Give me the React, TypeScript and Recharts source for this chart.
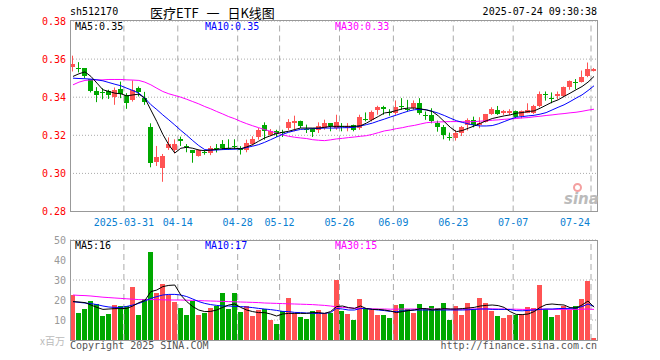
import React from 'react'
import { ComposedChart, Bar, Line, XAxis, YAxis, CartesianGrid, ReferenceLine } from 'recharts'

const dates = [
  '2025-03-18', '2025-03-19', '2025-03-20', '2025-03-21', '2025-03-24', '2025-03-25', '2025-03-26', '2025-03-27', '2025-03-28', '2025-03-31',
  '2025-04-01', '2025-04-02', '2025-04-03', '2025-04-07', '2025-04-08', '2025-04-09', '2025-04-10', '2025-04-11', '2025-04-14', '2025-04-15',
  '2025-04-16', '2025-04-17', '2025-04-18', '2025-04-21', '2025-04-22', '2025-04-23', '2025-04-24', '2025-04-25', '2025-04-28', '2025-04-29',
  '2025-04-30', '2025-05-06', '2025-05-07', '2025-05-08', '2025-05-09', '2025-05-12', '2025-05-13', '2025-05-14', '2025-05-15', '2025-05-16',
  '2025-05-19', '2025-05-20', '2025-05-21', '2025-05-22', '2025-05-23', '2025-05-26', '2025-05-27', '2025-05-28', '2025-05-29', '2025-05-30',
  '2025-06-03', '2025-06-04', '2025-06-05', '2025-06-06', '2025-06-09', '2025-06-10', '2025-06-11', '2025-06-12', '2025-06-13', '2025-06-16',
  '2025-06-17', '2025-06-18', '2025-06-19', '2025-06-20', '2025-06-23', '2025-06-24', '2025-06-25', '2025-06-26', '2025-06-27', '2025-06-30',
  '2025-07-01', '2025-07-02', '2025-07-03', '2025-07-04', '2025-07-07', '2025-07-08', '2025-07-09', '2025-07-10', '2025-07-11', '2025-07-14',
  '2025-07-15', '2025-07-16', '2025-07-17', '2025-07-18', '2025-07-21', '2025-07-22', '2025-07-23', '2025-07-24',
]

const open = [
  0.3558, 0.3554, 0.3553, 0.3495, 0.3435, 0.3426, 0.343, 0.34, 0.3444, 0.3412,
  0.3386, 0.3447, 0.3398, 0.3242, 0.3061, 0.3026, 0.3135, 0.3123, 0.3181, 0.3142,
  0.3123, 0.3091, 0.3112, 0.3105, 0.3133, 0.3153, 0.3133, 0.3142, 0.3134, 0.3125,
  0.3155, 0.3191, 0.3256, 0.3203, 0.3224, 0.3219, 0.3238, 0.3264, 0.3277, 0.3235,
  0.3233, 0.3226, 0.3238, 0.3264, 0.3238, 0.3247, 0.3238, 0.3252, 0.3238, 0.3287,
  0.3282, 0.3334, 0.3346, 0.3321, 0.3317, 0.3352, 0.3338, 0.3343, 0.3369, 0.3304,
  0.3307, 0.3267, 0.3242, 0.319, 0.3184, 0.3214, 0.3254, 0.3281, 0.3254, 0.3272,
  0.3312, 0.3333, 0.3316, 0.3316, 0.3325, 0.3302, 0.3319, 0.3319, 0.3354, 0.3419,
  0.3396, 0.3407, 0.3407, 0.3453, 0.3478, 0.3482, 0.3509, 0.354,
]
const close = [
  0.3575, 0.3547, 0.3509, 0.3435, 0.3409, 0.3422, 0.3409, 0.3439, 0.3418, 0.3368,
  0.3439, 0.3426, 0.3377, 0.3056, 0.3084, 0.3093, 0.3154, 0.3154, 0.317, 0.3138,
  0.3105, 0.3121, 0.3109, 0.3132, 0.313, 0.3132, 0.313, 0.314, 0.3122, 0.3157,
  0.3181, 0.3226, 0.3221, 0.3224, 0.3209, 0.3216, 0.3268, 0.3277, 0.3247, 0.3233,
  0.3216, 0.325, 0.3264, 0.3247, 0.3268, 0.3242, 0.325, 0.3226, 0.3296, 0.3285,
  0.3322, 0.3346, 0.3337, 0.3318, 0.3351, 0.335, 0.3336, 0.3369, 0.3317, 0.3302,
  0.3277, 0.3242, 0.3202, 0.3188, 0.3214, 0.3242, 0.3281, 0.3254, 0.3267, 0.3312,
  0.3337, 0.3312, 0.3325, 0.3325, 0.3298, 0.3325, 0.3333, 0.3354, 0.3418, 0.3417,
  0.3394, 0.3418, 0.3453, 0.3486, 0.3476, 0.3505, 0.3547, 0.3547,
]
const high = [
  0.3618, 0.3584, 0.3553, 0.3495, 0.3453, 0.3447, 0.3439, 0.3451, 0.3482, 0.3421,
  0.3488, 0.3456, 0.3428, 0.3263, 0.3144, 0.3102, 0.3189, 0.3179, 0.3193, 0.3154,
  0.3123, 0.3126, 0.3123, 0.3144, 0.3154, 0.3175, 0.3179, 0.3179, 0.3143, 0.3177,
  0.3195, 0.3238, 0.3268, 0.3233, 0.3229, 0.3229, 0.3285, 0.3303, 0.3277, 0.3256,
  0.3238, 0.3268, 0.3282, 0.3264, 0.3308, 0.3264, 0.3264, 0.3256, 0.3308, 0.332,
  0.333, 0.3355, 0.3355, 0.3337, 0.3383, 0.3395, 0.3386, 0.3383, 0.3395, 0.3325,
  0.3342, 0.3277, 0.3254, 0.3214, 0.3228, 0.3249, 0.3289, 0.3298, 0.3295, 0.3312,
  0.3347, 0.3354, 0.3333, 0.3337, 0.333, 0.333, 0.3368, 0.336, 0.343, 0.343,
  0.3425, 0.343, 0.3456, 0.3488, 0.3495, 0.354, 0.3582, 0.3553,
]
const low = [
  0.3535, 0.353, 0.35, 0.3425, 0.3374, 0.3389, 0.3391, 0.336, 0.3395, 0.3339,
  0.3377, 0.3404, 0.336, 0.3032, 0.3039, 0.2956, 0.3123, 0.3105, 0.3144, 0.3111,
  0.3056, 0.3088, 0.3098, 0.3096, 0.311, 0.3123, 0.3123, 0.3126, 0.3099, 0.3111,
  0.3146, 0.3177, 0.3177, 0.3195, 0.3191, 0.3191, 0.3226, 0.3221, 0.3238, 0.3212,
  0.3191, 0.3212, 0.3229, 0.3221, 0.3229, 0.3221, 0.3221, 0.3221, 0.3229, 0.3273,
  0.3273, 0.3308, 0.3308, 0.3303, 0.3308, 0.3334, 0.3325, 0.3334, 0.3308, 0.3281,
  0.3263, 0.3219, 0.3179, 0.3172, 0.3172, 0.3196, 0.3225, 0.3242, 0.3237, 0.3267,
  0.3307, 0.3307, 0.3307, 0.3307, 0.3289, 0.3289, 0.3316, 0.3312, 0.3347, 0.3382,
  0.3368, 0.3389, 0.34, 0.3439, 0.3442, 0.3477, 0.3505, 0.3535,
]

// moving averages as drawn on the chart
const ma5 = [
  0.3509, 0.3523, 0.3533, 0.3509, 0.3474, 0.3439, 0.343, 0.3421, 0.3418, 0.3407,
  0.3412, 0.3416, 0.3395, 0.3333, 0.3272, 0.3205, 0.315, 0.3107, 0.3132, 0.3137,
  0.3132, 0.3123, 0.3119, 0.3123, 0.3126, 0.313, 0.3132, 0.3132, 0.3129, 0.3139,
  0.3151, 0.3169, 0.3186, 0.3198, 0.3209, 0.3216, 0.3221, 0.323, 0.3238, 0.3238,
  0.3238, 0.3238, 0.3242, 0.3247, 0.3247, 0.3247, 0.3247, 0.3247, 0.325, 0.3264,
  0.3282, 0.3299, 0.3317, 0.3322, 0.333, 0.3339, 0.3343, 0.3343, 0.3339, 0.3333,
  0.3325, 0.3302, 0.3272, 0.3242, 0.3219, 0.3225, 0.3237, 0.3249, 0.3263, 0.3276,
  0.3288, 0.3295, 0.3302, 0.3307, 0.3316, 0.3319, 0.3325, 0.3328, 0.3342, 0.3358,
  0.3374, 0.3386, 0.3404, 0.3421, 0.3439, 0.3456, 0.3479, 0.3509,
]
const ma10 = [
  0.35, 0.3498, 0.3497, 0.3495, 0.3491, 0.3486, 0.3477, 0.3468, 0.346, 0.3447,
  0.3435, 0.3421, 0.3395, 0.3361, 0.3335, 0.3307, 0.3281, 0.3254, 0.3226, 0.32,
  0.3172, 0.3146, 0.3125, 0.3122, 0.3123, 0.3125, 0.3126, 0.3127, 0.3129, 0.3136,
  0.3143, 0.3151, 0.3163, 0.3177, 0.3191, 0.3205, 0.3216, 0.3224, 0.3231, 0.3233,
  0.3235, 0.3236, 0.3238, 0.3238, 0.3238, 0.324, 0.324, 0.3242, 0.3249, 0.3256,
  0.3264, 0.3275, 0.3285, 0.3296, 0.3306, 0.3317, 0.3327, 0.3334, 0.3336, 0.3334,
  0.3326, 0.3316, 0.3304, 0.329, 0.3277, 0.3268, 0.326, 0.3253, 0.3249, 0.3249,
  0.3251, 0.326, 0.3272, 0.3284, 0.3295, 0.3298, 0.3302, 0.3305, 0.3311, 0.3319,
  0.3333, 0.3347, 0.336, 0.3377, 0.3395, 0.3412, 0.3435, 0.346,
]
const ma30 = [
  0.3465, 0.3479, 0.3488, 0.3491, 0.3491, 0.3491, 0.3493, 0.3493, 0.3493, 0.3491,
  0.349, 0.3488, 0.3479, 0.3465, 0.3447, 0.343, 0.3418, 0.3409, 0.34, 0.3389,
  0.3377, 0.3365, 0.3351, 0.3339, 0.3325, 0.3312, 0.3298, 0.3287, 0.3273, 0.3261,
  0.325, 0.324, 0.323, 0.3221, 0.3212, 0.3202, 0.3195, 0.319, 0.3186, 0.3183,
  0.3177, 0.3174, 0.3172, 0.3176, 0.3181, 0.3184, 0.3188, 0.3191, 0.3195, 0.3198,
  0.3205, 0.3214, 0.3223, 0.3228, 0.3235, 0.324, 0.3247, 0.3252, 0.3259, 0.3266,
  0.3269, 0.327, 0.3271, 0.3272, 0.3272, 0.3271, 0.3271, 0.3272, 0.3274, 0.3276,
  0.3279, 0.3281, 0.3284, 0.3286, 0.3288, 0.3291, 0.3293, 0.3297, 0.33, 0.3304,
  0.3307, 0.3311, 0.3314, 0.3318, 0.3321, 0.3326, 0.3332, 0.3337,
]

// volume, millions of shares
const vol = [
  22.5, 13.7, 15.5, 19.7, 18, 12, 13, 17.5, 17, 17,
  26.7, 12.5, 20.5, 44.2, 23.3, 28, 22.5, 19.2, 15.8, 12.5,
  19.7, 12.5, 13.7, 15.8, 17, 23.7, 15.5, 23.7, 14.2, 17.2,
  12, 15, 15.3, 10, 8, 14.5, 21.2, 13.7, 11.7, 10.5,
  14.5, 15, 13.7, 13.3, 30, 14.7, 13, 10, 20.5, 15.5,
  15, 12.5, 12.5, 11.2, 17.5, 18, 15.5, 13.7, 18, 15.5,
  17, 15.8, 18.5, 10, 17, 12.5, 18.5, 15.5, 21, 18.5,
  14.5, 12, 11, 12.5, 12.5, 12.5, 16.5, 16, 27.5, 15.5,
  11.3, 12.5, 17, 15, 17, 20.5, 29.5, 1.2,
]
const vma5 = [
  19.2, 19, 18.7, 17.5, 16.3, 15.3, 15.5, 15.7, 15.7, 15.8,
  17, 18.7, 19.7, 24.2, 25, 26.7, 27.3, 27.5, 22.5, 19.2,
  16.7, 15, 14.2, 14.3, 15, 16.3, 17.5, 18, 16.3, 15,
  14.2, 13.7, 13.7, 13, 12, 13, 13.3, 13.3, 13.3, 13.3,
  13.7, 13.7, 13.3, 14.2, 16.7, 17, 16.2, 15.8, 17, 15.7,
  15.3, 15.3, 15, 14.5, 13.7, 14.2, 14.7, 15, 15.7, 15.7,
  15, 15.3, 15.7, 15.5, 15.5, 15.7, 16, 16.3, 17, 17.3,
  17.5, 17.2, 16.3, 14.2, 12.8, 12.7, 13, 14.2, 16.3, 17.7,
  18, 17.7, 17.5, 16.2, 16, 17.5, 19.5, 16.4,
]
const vma10 = [
  19.2, 18.8, 18.5, 18.2, 17.7, 17, 16.5, 16.3, 16.3, 16.8,
  17.5, 18.3, 19.5, 20.8, 21.7, 22.5, 22.8, 22.8, 22.5, 21.7,
  20.5, 19.2, 18.3, 17.7, 17.3, 17, 17, 16.8, 16.7, 16.5,
  16.2, 15.8, 15.5, 15.2, 14.8, 14.3, 14.2, 13.8, 13.7, 13.5,
  13.3, 13.3, 13.3, 13.7, 15.8, 15.5, 15, 15, 15.7, 15.7,
  15.3, 15, 14.7, 14.3, 14.2, 14.5, 14.8, 15, 15, 15,
  15, 15, 15, 15, 15, 15, 15.1, 15.3, 15.5, 15.5,
  15.3, 15.3, 15.3, 15.2, 14.7, 14.6, 14.8, 15, 15.3, 15.5,
  15.5, 15.7, 15.8, 15.8, 16, 16.7, 18, 16.8,
]
const vma30 = [
  22.5, 22.3, 22.2, 22, 21.7, 21.4, 21.2, 21, 20.8, 20.6,
  20.4, 20.2, 20.1, 20.2, 20.2, 20.1, 20, 20, 20, 19.9,
  19.8, 19.7, 19.6, 19.5, 19.4, 19.3, 19.2, 19.1, 19, 18.9,
  18.8, 18.7, 18.5, 18.4, 18.3, 18.2, 18.1, 18, 17.9, 17.8,
  17.7, 17.5, 17.3, 17, 16.6, 16.3, 16.1, 15.9, 15.8, 15.7,
  15.6, 15.5, 15.5, 15.4, 15.4, 15.5, 15.5, 15.5, 15.6, 15.6,
  15.5, 15.5, 15.5, 15.4, 15.4, 15.4, 15.5, 15.5, 15.5, 15.6,
  15.6, 15.5, 15.5, 15.4, 15.4, 15.3, 15.3, 15.3, 15.4, 15.4,
  15.3, 15.3, 15.3, 15.3, 15.3, 15.4, 15.5, 15.3,
]

const markDates = ['2025-03-31', '2025-04-14', '2025-04-28', '2025-05-12', '2025-05-26', '2025-06-09', '2025-06-23', '2025-07-07', '2025-07-24']
const priceTicks = [0.28, 0.3, 0.32, 0.34, 0.36, 0.38]
const volTicks = [10, 20, 30, 40, 50]

const UP = '#ff5353'
const DOWN = '#00a800'
const GRID = '#aaa'
const MONO = '"DejaVu Sans Mono", "Liberation Mono", monospace'

const rows = dates.map((date, i) => ({
  date,
  open: open[i],
  close: close[i],
  high: high[i],
  low: low[i],
  ma5: ma5[i],
  ma10: ma10[i],
  ma30: ma30[i],
  vol: vol[i],
  vma5: vma5[i],
  vma10: vma10[i],
  vma30: vma30[i],
}))

const last = rows.length - 1

function Candle(props: any) {
  const { x, y, height, payload } = props
  const color = payload.close >= payload.open ? UP : DOWN
  const top = Math.min(y, y + height)
  const h = Math.abs(height)
  const k = h / (payload.high - payload.low)
  const yO = top + (payload.high - payload.open) * k
  const yC = top + (payload.high - payload.close) * k
  const left = Math.round(x)
  return (
    <g>
      <line x1={left + 2.5} x2={left + 2.5} y1={top} y2={top + h} stroke={color} strokeWidth={1} />
      <rect
        x={left}
        y={Math.min(yO, yC)}
        width={5}
        height={Math.max(Math.abs(yO - yC), 1)}
        fill={color}
        shapeRendering="crispEdges"
      />
    </g>
  )
}

function VolBar(props: any) {
  const { x, y, height, payload } = props
  const color = payload.close >= payload.open ? UP : DOWN
  return <rect x={Math.round(x)} y={y} width={5} height={Math.max(height, 0)} fill={color} shapeRendering="crispEdges" />
}

function DateTick(props: any) {
  const { x, y, payload } = props
  const v: string = payload.value
  const isLast = v === markDates[markDates.length - 1]
  const label = v === markDates[0] ? v : v.slice(5)
  return (
    <text
      x={isLast ? x - 4 : x - 3}
      y={y}
      dy="0.71em"
      textAnchor={isLast ? 'end' : 'middle'}
      fill="#0a80d2"
      fontSize={10}
      fontFamily={MONO}
    >
      {label}
    </text>
  )
}

function Txt({ left, right, cy, size = 10, color = '#000', font = MONO, style, children }: any) {
  return (
    <div
      style={{
        position: 'absolute',
        left,
        right,
        top: cy - size / 2,
        fontSize: size,
        lineHeight: `${size}px`,
        color,
        fontFamily: font,
        whiteSpace: 'pre',
        ...style,
      }}
    >
      {children}
    </div>
  )
}

const frame = (top: number, height: number): React.CSSProperties => ({
  position: 'absolute',
  left: 70,
  top,
  width: 528,
  height,
  border: '1px solid #999',
  boxSizing: 'border-box',
  pointerEvents: 'none',
})

export default function App() {
  return (
    <div style={{ position: 'absolute', left: 0, top: 0, width: 660, height: 360, background: '#fff', overflow: 'hidden' }}>
      <div style={{ position: 'absolute', left: 0, top: 0 }}>
        <ComposedChart width={660} height={232} data={rows} margin={{ top: 21, right: 63, bottom: 0, left: 0 }} barCategoryGap={0}>
          <CartesianGrid vertical={false} stroke={GRID} strokeDasharray="1 2" />
          <XAxis
            dataKey="date"
            ticks={markDates}
            interval={0}
            tick={<DateTick />}
            tickLine={false}
            axisLine={false}
            tickSize={4}
            tickMargin={3}
            height={20.5}
          />
          <YAxis
            domain={[0.28, 0.38]}
            ticks={priceTicks}
            allowDataOverflow
            width={70}
            tickLine={false}
            axisLine={false}
            tickSize={2}
            tickMargin={2}
            tickFormatter={(v: number) => v.toFixed(2)}
            tick={{ fill: '#f00', fontSize: 10, fontFamily: MONO }}
          />
          {markDates.map((d) => (
            <ReferenceLine key={d} x={d} position="start" stroke={GRID} strokeDasharray="6 4" />
          ))}
          <Bar dataKey={(d: any) => [d.low, d.high]} shape={<Candle />} isAnimationActive={false} />
          <Line dataKey="ma30" stroke="#f0f" strokeWidth={1} dot={false} isAnimationActive={false} />
          <Line dataKey="ma10" stroke="#00f" strokeWidth={1} dot={false} isAnimationActive={false} />
          <Line dataKey="ma5" stroke="#000" strokeWidth={1} dot={false} isAnimationActive={false} />
        </ComposedChart>
      </div>

      <div style={{ position: 'absolute', left: 0, top: 230 }}>
        <ComposedChart width={660} height={120} data={rows} margin={{ top: 10, right: 63, bottom: 10, left: 0 }} barCategoryGap={0}>
          <CartesianGrid vertical={false} stroke={GRID} strokeDasharray="1 2" />
          <XAxis dataKey="date" hide />
          <YAxis
            domain={[0, 50]}
            ticks={volTicks}
            allowDataOverflow
            width={70}
            tickLine={false}
            axisLine={false}
            tickSize={2}
            tickMargin={2}
            tick={{ fill: '#999', fontSize: 10, fontFamily: MONO }}
          />
          {markDates.map((d) => (
            <ReferenceLine key={d} x={d} position="start" stroke={GRID} strokeDasharray="6 4" />
          ))}
          <Bar dataKey="vol" shape={<VolBar />} isAnimationActive={false} />
          <Line dataKey="vma30" stroke="#f0f" strokeWidth={1} dot={false} isAnimationActive={false} />
          <Line dataKey="vma10" stroke="#00f" strokeWidth={1} dot={false} isAnimationActive={false} />
          <Line dataKey="vma5" stroke="#000" strokeWidth={1} dot={false} isAnimationActive={false} />
        </ComposedChart>
      </div>

      <div style={frame(20, 192)} />
      <div style={frame(240, 101)} />

      <Txt left={70} cy={12}>sh512170</Txt>
      <Txt left={150} cy={12} size={13} font='"Noto Sans CJK SC", sans-serif' style={{ wordSpacing: 5 }}>医疗ETF 一 日K线图</Txt>
      <Txt right={63} cy={12}>2025-07-24 09:30:38</Txt>

      <Txt left={75} cy={27}>MA5:{ma5[last].toFixed(2)}</Txt>
      <Txt left={205} cy={27} color="#00f">MA10:{ma10[last].toFixed(2)}</Txt>
      <Txt left={335} cy={27} color="#f0f">MA30:{ma30[last].toFixed(2)}</Txt>

      <Txt left={75} cy={246}>MA5:{vma5[last].toFixed(0)}</Txt>
      <Txt left={205} cy={246} color="#00f">MA10:{vma10[last].toFixed(0)}</Txt>
      <Txt left={335} cy={246} color="#f0f">MA30:{vma30[last].toFixed(0)}</Txt>

      <Txt right={595} cy={341} color="#bbb" font='"Noto Sans CJK SC", sans-serif'>x百万</Txt>
      <Txt left={70} cy={346} color="#555">Copyright 2025 SINA.COM</Txt>
      <Txt right={63} cy={346} color="#555">http://finance.sina.com.cn</Txt>

      <div style={{ position: 'absolute', left: 573, top: 183, width: 9, height: 9, borderRadius: '50%', border: '2px solid #f4a0a0', boxSizing: 'border-box' }} />
      <Txt left={564} cy={199} size={15} color="#bbb" font='"DejaVu Sans", sans-serif'>
        <span style={{ fontStyle: 'italic', fontWeight: 'bold' }}>sina</span>
      </Txt>
    </div>
  )
}
